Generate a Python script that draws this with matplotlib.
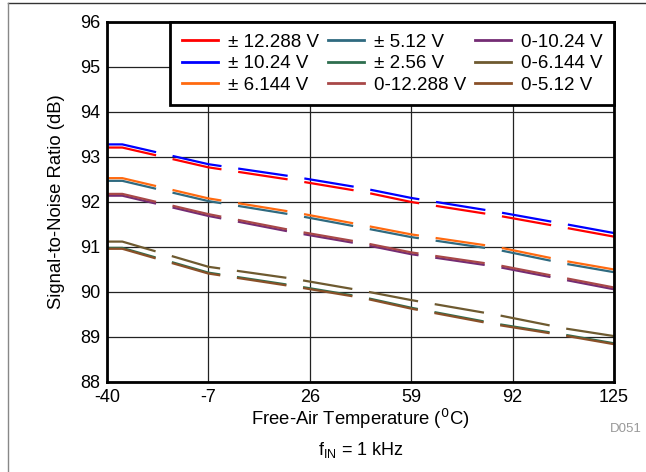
import matplotlib
matplotlib.use("Agg")
import matplotlib.pyplot as plt
from matplotlib.lines import Line2D

plt.rcParams['font.family'] = ['Liberation Sans', 'DejaVu Sans']
plt.rcParams['axes.unicode_minus'] = False

# data
temps = [-40, -35, -7, 21, 43, 59, 87, 109, 125]
labels = ['± 12.288 V', '± 10.24 V', '± 6.144 V',
          '± 5.12 V', '± 2.56 V', '0-12.288 V',
          '0-10.24 V', '0-6.144 V', '0-5.12 V']
colors = ['#FF0000', '#0000FF', '#FF6A10',
          '#2F6A80', '#2E6E4E', '#A84848',
          '#742C74', '#6E5A30', '#8A5028']
snr_pm12288 = [93.21, 93.21, 92.77, 92.48, 92.23, 92.00, 91.70, 91.43, 91.23]
snr_pm1024 = [93.28, 93.28, 92.84, 92.56, 92.31, 92.09, 91.78, 91.51, 91.31]
snr_pm6144 = [92.53, 92.53, 92.08, 91.77, 91.49, 91.28, 91.00, 90.69, 90.50]
snr_pm512 = [92.47, 92.47, 92.02, 91.71, 91.43, 91.22, 90.94, 90.63, 90.44]
snr_pm256 = [90.98, 90.98, 90.43, 90.14, 89.89, 89.65, 89.29, 89.05, 88.86]
snr_012288 = [92.18, 92.18, 91.73, 91.36, 91.10, 90.88, 90.60, 90.31, 90.10]
snr_01024 = [92.14, 92.14, 91.69, 91.32, 91.06, 90.84, 90.56, 90.27, 90.06]
snr_06144 = [91.12, 91.12, 90.56, 90.29, 90.03, 89.82, 89.49, 89.19, 89.02]
snr_0512 = [90.96, 90.96, 90.41, 90.12, 89.87, 89.63, 89.27, 89.03, 88.84]
series = [snr_pm12288, snr_pm1024, snr_pm6144, snr_pm512, snr_pm256,
          snr_012288, snr_01024, snr_06144, snr_0512]

fig = plt.figure(figsize=(6.46, 4.72), dpi=100)
ax = fig.add_axes([0.1656, 0.1907, 0.7849, 0.7627])

# draw back to front so the overlaps look like the reference
for i in [4, 8, 7, 6, 5, 3, 2, 0, 1]:
    ax.plot(temps, series[i], color=colors[i], lw=1.6,
            linestyle=(0, (22.5, 7.6)), dash_capstyle='butt')

ax.set_xlim(-40, 125)
ax.set_ylim(88, 96)
ax.set_xticks([-40, -7, 26, 59, 92, 125])
ax.set_yticks(range(88, 97))
ax.tick_params(length=0, labelsize=13, pad=5)
ax.grid(True, color='#222222', lw=0.9)
for s in ax.spines.values():
    s.set_linewidth(2)
ax.set_xlabel('Free-Air Temperature ($^0$C)', fontsize=13.3, labelpad=1)
ax.set_ylabel('Signal-to-Noise Ratio (dB)', fontsize=13.3, labelpad=11)

handles = [Line2D([0], [0], color=c, lw=2) for c in colors]
leg = ax.legend(handles, labels, ncol=3, loc='upper right', fontsize=13.5,
                frameon=True, fancybox=False, framealpha=1,
                edgecolor='black', handlelength=1.9, handletextpad=0.53,
                columnspacing=0.5, labelspacing=0.23, borderpad=0.62,
                borderaxespad=0)
leg.get_frame().set_linewidth(2)

fig.text(0.993, 0.092, 'D051', color='#999999', fontsize=9.5, ha='right', va='center')
fig.text(0.558, 0.046, 'f$_{\\mathregular{IN}}$ = 1 kHz', fontsize=13, ha='center', va='center')

# outer frame lines (top and left)
fig.add_artist(Line2D([0.012, 1], [0.994, 0.994], color='#333333', lw=1))
fig.add_artist(Line2D([0.012, 0.012], [0, 0.994], color='#888888', lw=1))

fig.savefig('out.png', dpi=100)
